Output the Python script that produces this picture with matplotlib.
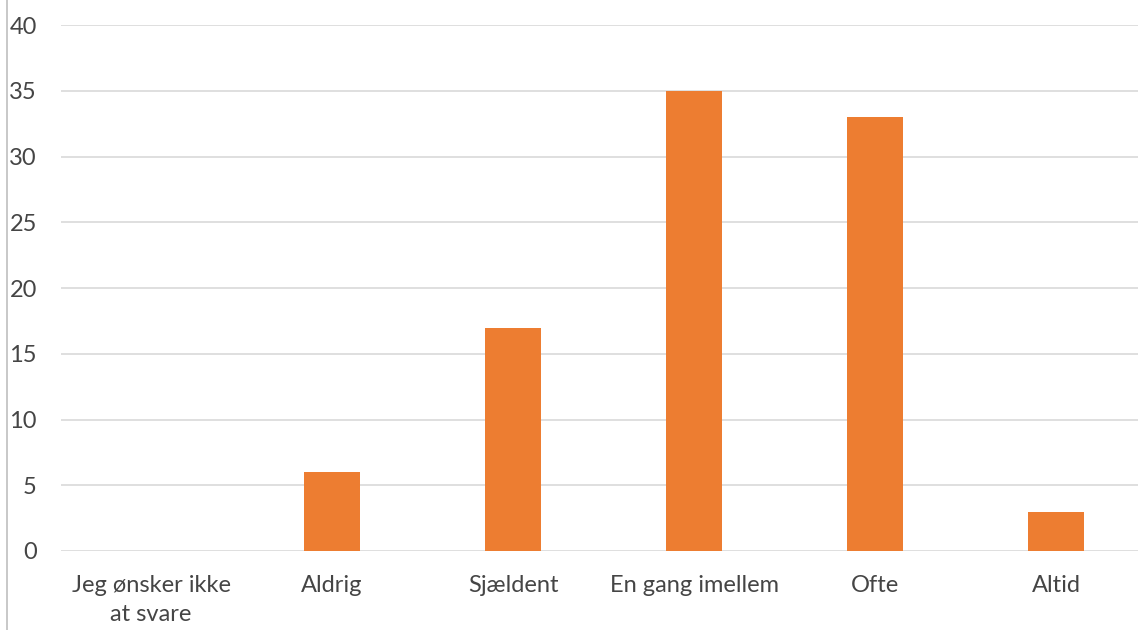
import matplotlib.pyplot as plt
from matplotlib.lines import Line2D

categories = ["Jeg ønsker ikke\nat svare", "Aldrig", "Sjældent", "En gang imellem", "Ofte", "Altid"]
values = [0, 6, 17, 35, 33, 3]
yticks = [0, 5, 10, 15, 20, 25, 30, 35, 40]

plt.rcParams['font.family'] = ['Lato', 'DejaVu Sans']

fig = plt.figure(figsize=(11.38, 6.30), dpi=100)
ax = fig.add_axes([0.0532, 0.1254, 0.9543, 0.8346])

x = range(len(categories))
ax.bar(x, values, width=0.31, color='#ED7D31', zorder=3)

ax.set_xlim(-0.5, len(categories) - 0.5)
ax.set_ylim(0, 40)
ax.set_yticks(yticks)
ax.set_xticks(list(x))
ax.set_xticklabels(categories, fontsize=17, color='#454545', linespacing=1.5)
ax.tick_params(axis='y', labelsize=17, labelcolor='#454545', length=0, pad=17)
ax.tick_params(axis='x', length=0, pad=17)

ax.grid(axis='y', color='#D9D9D9', linewidth=1.2, zorder=0)
for s in ax.spines.values():
    s.set_visible(False)

# thin frame line on the left edge of the picture
fig.add_artist(Line2D([7 / 1138, 7 / 1138], [0, 1], transform=fig.transFigure,
                      color='#BFBFBF', linewidth=1.2))

fig.savefig('out.png', dpi=100)
